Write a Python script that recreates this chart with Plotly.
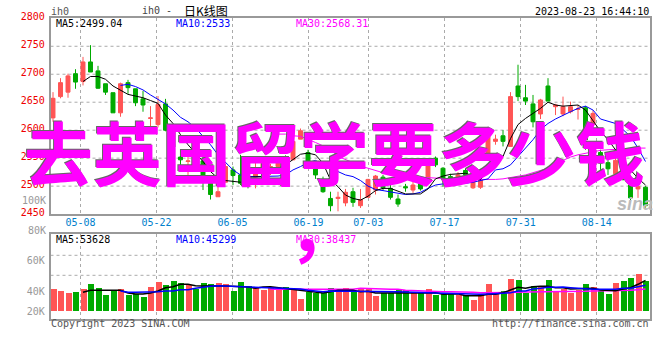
import plotly.graph_objects as go

open_ = [2622,2660,2668,2701,2687,2722,2706,2683,2667,2631,2685,2674,2656,2621,2610,2647,2597,2552,2544,2555,
         2545,2507,2481,2507,2529,2520,2512,2516,2532,2525,2535,2550,2547,2584,2560,2533,2502,2478,2478,2470,
         2490,2465,2480,2493,2516,2496,2477,2499,2493,2507,2511,2550,2532,2517,2505,2528,2497,2498,2559,2580,
         2590,2571,2679,2658,2647,2629,2679,2642,2629,2633,2637,2640,2610,2560,2542,2522,2541,2502,2495,2498]
close = [2657,2685,2697,2686,2722,2704,2675,2668,2631,2683,2676,2649,2645,2622,2646,2600,2570,2547,2545,2540,
         2520,2485,2490,2535,2519,2505,2503,2526,2541,2535,2544,2535,2580,2599,2544,2520,2490,2465,2480,2489,
         2471,2476,2512,2518,2497,2480,2468,2497,2502,2495,2538,2538,2513,2512,2520,2520,2508,2511,2589,2584,
         2580,2660,2660,2652,2615,2654,2652,2645,2642,2642,2638,2583,2630,2541,2531,2546,2512,2479,2499,2465]
high = [2668,2693,2701,2709,2731,2752,2715,2683,2667,2685,2690,2674,2670,2643,2661,2656,2602,2562,2559,2562,
        2552,2514,2510,2540,2535,2556,2520,2544,2545,2540,2548,2555,2583,2603,2565,2538,2517,2490,2490,2495,
        2497,2495,2513,2520,2520,2502,2485,2504,2508,2515,2542,2553,2534,2522,2525,2532,2512,2514,2592,2592,
        2600,2668,2717,2681,2663,2656,2693,2647,2660,2651,2645,2643,2635,2565,2550,2553,2545,2510,2503,2500]
low = [2615,2657,2658,2674,2680,2704,2674,2663,2631,2624,2665,2643,2633,2606,2605,2598,2555,2538,2520,2535,
       2493,2476,2481,2507,2502,2502,2496,2496,2520,2520,2530,2530,2547,2584,2531,2513,2488,2455,2455,2464,
       2463,2461,2480,2485,2492,2476,2463,2490,2488,2492,2508,2534,2499,2500,2502,2515,2495,2495,2555,2574,
       2571,2571,2652,2645,2605,2620,2652,2627,2625,2630,2619,2565,2605,2529,2520,2518,2510,2475,2479,2459]

ma5 = [2687,2696,2696,2691,2679,2672,2664,2661,2658,2653,2648,2627,2612,2592,2574,2559,2544,2526,2514,2510,
       2508,2507,2516,2517,2517,2523,2532,2538,2547,2557,2559,2556,2541,2511,2499,2484,2478,2475,2482,2492,
       2496,2496,2491,2486,2486,2486,2495,2513,2518,2521,2522,2523,2518,2512,2525,2545,2553,2585,2610,2621,
       2630,2639,2650,2645,2643,2644,2645,2636,2618,2598,2583,2565,2547,2529,2514,2502]
ma10 = [2680,2682,2678,2672,2663,2655,2647,2636,2623,2615,2604,2589,2574,2556,2542,2529,2520,2517,2517,2517,
        2517,2518,2520,2529,2535,2542,2546,2538,2532,2526,2520,2517,2510,2500,2494,2492,2490,2488,2485,2486,
        2489,2496,2502,2504,2504,2504,2505,2507,2510,2513,2529,2531,2538,2553,2568,2583,2601,2612,2620,2627,
        2633,2639,2643,2636,2620,2616,2612,2601,2589,2568,2544]
ma30 = [2595,2593,2593,2590,2589,2584,2578,2572,2566,2553,2548,2542,2536,2532,2528,2524,2522,2520,2518,2517,
        2516,2515,2514,2513,2512,2512,2512,2512,2511,2511,2512,2513,2515,2517,2520,2524,2528,2532,2540,2546,
        2552,2556,2559,2562,2564,2565,2566,2566,2568,2568,2568]

volume = [42,40,38,39,42,47,43,36,41,42,36,37,34,44,49,46,50,48,46,42,48,47,48,47,40,49,45,44,41,44,42,44,41,32,39,38,38,43,
          40,43,40,43,43,35,38,38,41,41,38,38,42,36,37,37,36,36,31,37,47,37,40,52,51,38,45,44,51,40,42,38,41,47,44,40,37,48,50,53,57,50]
vol_ma5 = [38.7,40.7,40.7,40.7,40.7,40.7,38,37,37,38,40,43.3,44.3,46.7,46.7,45.3,45,45.3,45.3,45,44.7,44.7,44,42.7,44,44.3,43.3,42.7,42,40.3,39.3,38.3,38,39.3,
           40.7,40.7,40.7,39.3,39.7,38,38,37.7,37.7,38,38,38.3,38.3,38.3,36.7,37.3,37.3,35.3,35,35.3,36.7,36.7,38.3,41,43.7,42.7,44.3,44.7,44.7,43.3,43.3,42,42,42.7,42.7,41,41,40.3,42,43.3,46.7,50.7]
vol_ma10 = [40,38.7,38.7,38.7,38.7,39.3,40,40,41.3,41.3,42.7,44,44.7,45.3,45,44.7,45,44.7,44,43.7,43.7,43.3,43.3,42.7,42,40.7,40,39.3,40,
            40,40,40,40,40,39.7,39.7,39.3,39.3,39,39,38.7,38.3,38,37.7,37.7,37.3,37.3,36.7,36.7,37,37,37.7,38.3,40,40,42,42.7,43.7,43.7,44,43.3,42.7,42.7,41.7,41.7,41.7,41.7,42.7,42.7,44.3,45.7]
vol_ma30 = [41.7,41.7,41.7,41.7,41.7,41.7,41.7,41.7,41.3,41.3,41.3,41.7,42.7,42.7,42,42,41.7,41.7,40.7,40.3,40.3,40,39.3,39.3,39.3,39.3,38.7,38.7,38.3,38.3,38,38,38.3,38.7,39,39,39.3,39.3,39.3,39.3,39.7,39.7,39.7,40,40,40,40,40.3,40.7,41.3,42]

date_labels = ["05-08","05-22","06-05","06-19","07-03","07-17","07-31","08-14"]
date_ticks = [3.67,13.8,23.93,34.07,42.04,52.2,62.36,72.5]
price_ticks = [2450,2500,2550,2600,2650,2700,2750,2800]
price_grid = [2500,2550,2600,2650,2700,2750]
vol_tick_labels = ["20K","40K","60K"]
vol_label_values = [20,40,71]
vol_grid = [55.7,75.7]

RED = "#ff5555"; GREEN = "#00aa00"; GRID = "#aaaaaa"; AX = "#999999"
MONO = "DejaVu Sans Mono"
n = len(open_)
idx = list(range(n))

def tail_x(s):
    return list(range(n - len(s), n))

fig = go.Figure()
fig.add_trace(go.Candlestick(x=idx, open=open_, high=high, low=low, close=close,
    increasing=dict(line=dict(color=RED, width=1), fillcolor=RED),
    decreasing=dict(line=dict(color=GREEN, width=1), fillcolor=GREEN),
    whiskerwidth=0, xaxis="x", yaxis="y", showlegend=False))
for s, c in [(ma30, "#ff00ff"), (ma10, "#0000ff"), (ma5, "#000000")]:
    fig.add_trace(go.Scatter(x=tail_x(s), y=s, mode="lines", line=dict(color=c, width=1), xaxis="x", yaxis="y", showlegend=False))

bar_colors = [RED if c >= o else GREEN for o, c in zip(open_, close)]
fig.add_trace(go.Bar(x=idx, y=[v - 20 for v in volume], base=20, marker=dict(color=bar_colors, line=dict(width=0)),
    width=0.8, xaxis="x2", yaxis="y2", showlegend=False))
for s, c in [(vol_ma30, "#ff00ff"), (vol_ma5, "#000000"), (vol_ma10, "#0000ff")]:
    fig.add_trace(go.Scatter(x=tail_x(s), y=s, mode="lines", line=dict(color=c, width=1.5), xaxis="x2", yaxis="y2", showlegend=False))

W, H = 660, 360
L, R = 50.5, 649.5
XR = [(L - 53) / 7.5, (R - 53) / 7.5]

def dom(a, b):
    return [1 - b / H, 1 - a / H]

xcommon = dict(range=XR, tickmode="array", tickvals=date_ticks, showgrid=True, gridcolor=GRID, griddash="dot", gridwidth=1,
               showline=True, linecolor=AX, linewidth=1.5, mirror=True, zeroline=False, ticks="", domain=[L / W, R / W], automargin=False)
ycommon = dict(showline=True, linecolor=AX, linewidth=1.5, mirror=True, zeroline=False, ticks="", side="left", automargin=False)

fig.update_layout(
    width=W, height=H, margin=dict(l=0, r=0, t=0, b=0), paper_bgcolor="white", plot_bgcolor="white",
    showlegend=False, boxgap=0.25, bargap=0,
    font=dict(family=MONO, size=10, color="#000"),
    xaxis=dict(xcommon, anchor="y", ticktext=date_labels, tickfont=dict(family=MONO, size=10, color="#0080cc"),
               rangeslider=dict(visible=False), ticklabelstandoff=-2),
    yaxis=dict(ycommon, domain=dom(18.3, 214.1), range=[2450, 2800], tickmode="array", tickvals=price_ticks,
               ticktext=[str(v) for v in price_ticks], tickfont=dict(family=MONO, size=10, color="#ee0000"),
               showgrid=False, anchor="x", ticklabelshift=-2, ticklabelstandoff=2),
    xaxis2=dict(xcommon, anchor="y2", showticklabels=False),
    yaxis2=dict(ycommon, domain=dom(234.3, 318.7), range=[12.3, 96.7], tickmode="array", tickvals=vol_label_values,
                ticktext=vol_tick_labels, tickfont=dict(family=MONO, size=10, color="#999999"),
                showgrid=False, anchor="x2", ticklabelstandoff=2),
)

shapes = []
for v in price_grid:
    shapes.append(dict(type="line", xref="x domain", x0=0, x1=1, yref="y", y0=v, y1=v, layer="below", line=dict(color=GRID, width=1, dash="dot")))
for v in vol_grid:
    shapes.append(dict(type="line", xref="x2 domain", x0=0, x1=1, yref="y2", y0=v, y1=v, layer="below", line=dict(color=GRID, width=1, dash="dot")))
fig.update_layout(shapes=shapes)

def note(text, x, y, color="#000", size=10, anchor="left", family=MONO, **fontkw):
    fig.add_annotation(text=text, xref="paper", yref="paper", x=x / W, y=1 - y / H, xanchor=anchor, yanchor="middle",
                       showarrow=False, borderpad=0, font=dict(family=family, size=size, color=color, **fontkw))

note("ih0", 50.5, 12, "#555555")
note("ih0 -", 141, 10, "#444444")
note("日K线图", 183, 10, "#000000", size=12, family="Noto Sans CJK SC")
note("2023-08-23 16:44:10", 649.5, 11.5, anchor="right")
note("100K", 46.5, 200.3, "#999999", anchor="right")
note("80K", 46.5, 230.7, "#999999", anchor="right")
note("MA5:2499.04", 54.5, 23.5, "#000000")
note("MA10:2533", 174.5, 23.5, "#0000ff")
note("MA30:2568.31", 294.5, 23.5, "#ff00ff")
note("MA5:53628", 54.5, 239, "#000000")
note("MA10:45299", 174.5, 239, "#0000ff")
note("MA30:38437", 294.5, 239, "#ff00ff")
note("Copyright 2023 SINA.COM", 50, 323.5, "#555555")
note("http://finance.sina.com.cn", 649.5, 323.5, "#555555", anchor="right")
note("sina", 635, 204, "#bbbbbb", size=18, anchor="center", family="Liberation Sans", weight=700, style="italic")
note("去英国留学要多少钱", 334, 150.5, "#ff00ff", size=69, anchor="center", family="Noto Sans CJK SC", weight=700, shadow="-1px -1px 0 #666666")
note("，", 322, 225, "#ff00ff", size=68, anchor="center", family="Noto Sans CJK SC", weight=700)

fig.write_html("out.html", post_script="document.body.style.margin='0';", config=dict(displayModeBar=False))
